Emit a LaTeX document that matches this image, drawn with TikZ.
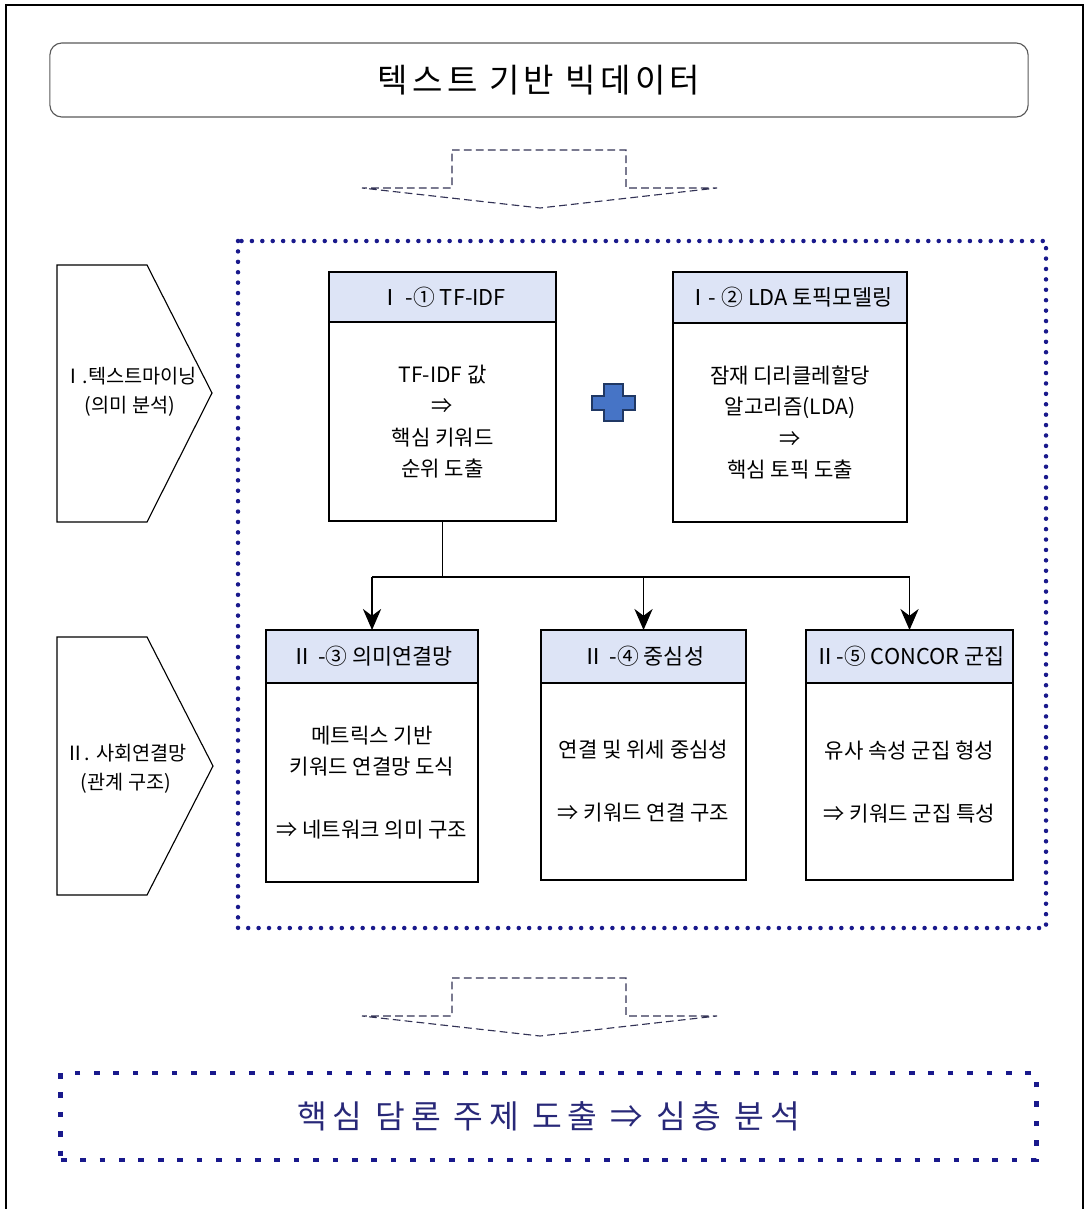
\documentclass[tikz,border=0pt]{standalone}
\usepackage{fontspec}
\setmainfont{Noto Sans CJK KR}
\usetikzlibrary{arrows.meta,positioning}

\definecolor{headfill}{RGB}{221,228,246}
\definecolor{navydot}{RGB}{25,25,140}
\definecolor{navytext}{RGB}{40,40,120}
\definecolor{plusfill}{RGB}{70,116,198}
\definecolor{plusline}{RGB}{32,56,100}
\definecolor{dasharrow}{RGB}{50,50,85}

\tikzset{
  headbox/.style={draw,fill=headfill,line width=.9pt,inner sep=0,outer sep=0,font=\fontsize{15.5}{18}\selectfont},
  bodybox/.style={draw,line width=.9pt,inner sep=0,outer sep=0,align=center,font=\fontsize{15}{22.4}\selectfont},
  sidetext/.style={align=center,font=\fontsize{14}{21}\selectfont},
  hollowarrow/.style={draw=dasharrow,line width=.8pt,dash pattern=on 5.5pt off 3pt},
  dotframe/.style={draw=navydot,line width=3.2pt,dash pattern=on 0pt off 7.4pt,line cap=round},
  finalbox/.style={draw=navydot,line width=3.5pt,dash pattern=on 4pt off 9.8pt,text=navytext,
    font=\fontsize{23}{28}\selectfont\addfontfeature{LetterSpace=18}},
  flowarrow/.style={-{Stealth[length=15pt,width=13pt]},line width=.8pt}
}

\begin{document}
\begin{tikzpicture}[x=0.025cm,y=-0.025cm]
\useasboundingbox (0,0) rectangle (1086,1209);

% frame
\draw[line width=1pt] (6,1209) -- (6,5) -- (1083,5) -- (1083,1209);

% title
\node[draw=black!65,line width=.8pt,rounded corners=0.3cm,minimum width=24.45cm,minimum height=1.85cm,
  font=\fontsize{23.5}{28}\selectfont\addfontfeature{LetterSpace=13}] (title) at (539,80) {텍스트 기반 빅데이터};

% hollow down arrows
\foreach \ytop in {150,978} {
  \draw[hollowarrow] (452,\ytop) -- (626,\ytop) -- (626,\ytop+38) -- (717,\ytop+38) -- (540,\ytop+58) -- (362,\ytop+38) -- (452,\ytop+38) -- cycle;
}

% dotted frame
\draw[dotframe] (238,241) rectangle (1046,928);

% side labels
\draw[line width=.8pt] (57,265) -- (147,265) -- (212,393) -- (147,522) -- (57,522) -- cycle;
\node[sidetext] (mining) at (130,392) {Ⅰ.텍스트마이닝\\(의미 분석)};
\draw[line width=.8pt] (57,637) -- (147,637) -- (213,766) -- (147,895) -- (57,895) -- cycle;
\node[sidetext] (network) at (126,769) {Ⅱ. 사회연결망\\(관계 구조)};

% stage I
\node[headbox,anchor=north west,minimum width=5.675cm,minimum height=1.25cm] (h1) at (329,272) {Ⅰ -① TF-IDF};
\node[bodybox,below=0pt of h1,minimum width=5.675cm,minimum height=4.975cm] (b1) {TF-IDF 값\\⇒\\핵심 키워드\\순위 도출};

\node[headbox,anchor=north west,minimum width=5.85cm,minimum height=1.275cm] (h2) at (673,272) {Ⅰ- ② LDA 토픽모델링};
\node[bodybox,below=0pt of h2,minimum width=5.85cm,minimum height=4.975cm] (b2) {잠재 디리클레할당\\알고리즘(LDA)\\⇒\\핵심 토픽 도출};

% plus
\draw[fill=plusfill,draw=plusline,line width=1pt] (604,384) -- (623,384) -- (623,396) -- (635,396) -- (635,410) -- (623,410)
  -- (623,421) -- (604,421) -- (604,410) -- (592,410) -- (592,396) -- (604,396) -- cycle;

% stage II
\node[headbox,anchor=north west,minimum width=5.3cm,minimum height=1.325cm] (h3) at (266,630) {Ⅱ -③ 의미연결망};
\node[bodybox,below=0pt of h3,minimum width=5.3cm,minimum height=4.975cm] (b3) {메트릭스 기반\\키워드 연결망 도식\\[22.4pt]⇒ 네트워크 의미 구조};

\node[headbox,anchor=north west,minimum width=5.125cm,minimum height=1.325cm] (h4) at (541,630) {Ⅱ -④ 중심성};
\node[bodybox,below=0pt of h4,minimum width=5.125cm,minimum height=4.925cm] (b4) {연결 및 위세 중심성\\[22.4pt]⇒ 키워드 연결 구조};

\node[headbox,anchor=north west,minimum width=5.175cm,minimum height=1.325cm] (h5) at (806,630) {Ⅱ-⑤ CONCOR 군집};
\node[bodybox,below=0pt of h5,minimum width=5.175cm,minimum height=4.925cm] (b5) {유사 속성 군집 형성\\[22.4pt]⇒ 키워드 군집 특성};

% connectors
\coordinate (split) at (443,577);
\draw[line width=.8pt] (b1.south) -- (b1.south |- split);
\draw[line width=.8pt] (h3.north |- split) -- (h5.north |- split);
\draw[flowarrow] (h3.north |- split) -- (h3.north);
\draw[flowarrow] (h4.north |- split) -- (h4.north);
\draw[flowarrow] (h5.north |- split) -- (h5.north);

% result
\node[finalbox,minimum width=24.375cm,minimum height=2.175cm] (result) at (548.5,1116.5) {핵심 담론 주제 도출 ⇒ 심층 분석};

\end{tikzpicture}
\end{document}
